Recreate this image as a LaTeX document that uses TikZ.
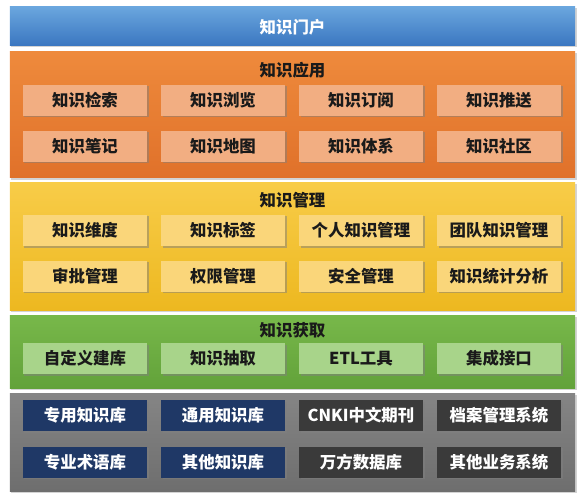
\documentclass[tikz,border=0pt]{standalone}
\usepackage{fontspec}
\setmainfont{Noto Sans CJK SC}
\usetikzlibrary{shadows}
\definecolor{bluetop}{HTML}{6AA6DE}
\definecolor{bluebot}{HTML}{3A76C0}
\definecolor{orgtop}{HTML}{EE8A3C}
\definecolor{orgbot}{HTML}{E0712A}
\definecolor{orgbox}{HTML}{F2AE82}
\definecolor{yeltop}{HTML}{F8CC48}
\definecolor{yelbot}{HTML}{EDB820}
\definecolor{yelbox}{HTML}{FAD67A}
\definecolor{grntop}{HTML}{78B84A}
\definecolor{grnbot}{HTML}{62A23A}
\definecolor{grnbox}{HTML}{A8D48A}
\definecolor{graytop}{HTML}{858585}
\definecolor{graybot}{HTML}{6E6E6E}
\definecolor{navybox}{HTML}{1F3866}
\definecolor{darkbox}{HTML}{3A3A3A}
\definecolor{txt}{HTML}{1A1A1A}
\tikzset{
  panel/.style={minimum width=565bp, inner sep=0pt, draw=none,
    drop shadow={opacity=0.35, shadow xshift=1.5bp, shadow yshift=-1.5bp}},
  ptitle/.style={font=\fontsize{16.5}{19}\selectfont\bfseries, text=txt, inner sep=0pt},
  box/.style={minimum width=124bp, minimum height=31bp, inner sep=0pt,
    font=\fontsize{16.5}{19}\selectfont\bfseries, text=txt,
    drop shadow={opacity=0.5, shadow xshift=1.5bp, shadow yshift=-1.5bp}},
  obox/.style={box, fill=orgbox},
  ybox/.style={box, fill=yelbox},
  gbox/.style={box, fill=grnbox},
  nbox/.style={box, fill=navybox, text=white},
  dbox/.style={box, fill=darkbox, text=white},
}
\begin{document}
\begin{tikzpicture}[x=1bp,y=-1bp]
\useasboundingbox (0,0) rectangle (584,500);
% panels
\node[panel, minimum height=39bp, top color=bluetop, bottom color=bluebot] (portal) at (292.5,26.5) {};
\node[font=\fontsize{16.5}{19}\selectfont\bfseries, text=white] (portalt) at (292.5,27) {知识门户};
\node[panel, minimum height=126bp, top color=orgtop, bottom color=orgbot] (app) at (292.5,115) {};
\node[panel, minimum height=127bp, top color=yeltop, bottom color=yelbot] (mgmt) at (292.5,246.5) {};
\node[panel, minimum height=73bp, top color=grntop, bottom color=grnbot] (acq) at (292.5,351.5) {};
\node[panel, minimum height=98bp, top color=graytop, bottom color=graybot] (src) at (292.5,442) {};
% titles
\node[ptitle] (appt) at (292.5,70) {知识应用};
\node[ptitle] (mgmtt) at (292.5,200) {知识管理};
\node[ptitle] (acqt) at (292.5,330) {知识获取};
% application
\node[obox] (a1) at (85,100.5) {知识检索};
\node[obox] (a2) at (223,100.5) {知识浏览};
\node[obox] (a3) at (361,100.5) {知识订阅};
\node[obox] (a4) at (499,100.5) {知识推送};
\node[obox] (a5) at (85,146.5) {知识笔记};
\node[obox] (a6) at (223,146.5) {知识地图};
\node[obox] (a7) at (361,146.5) {知识体系};
\node[obox] (a8) at (499,146.5) {知识社区};
% management
\node[ybox] (m1) at (85,230.5) {知识维度};
\node[ybox] (m2) at (223,230.5) {知识标签};
\node[ybox] (m3) at (361,230.5) {个人知识管理};
\node[ybox] (m4) at (499,230.5) {团队知识管理};
\node[ybox] (m5) at (85,276) {审批管理};
\node[ybox] (m6) at (223,276) {权限管理};
\node[ybox] (m7) at (361,276) {安全管理};
\node[ybox] (m8) at (499,276) {知识统计分析};
% acquisition
\node[gbox] (q1) at (85,358.5) {自定义建库};
\node[gbox] (q2) at (223,358.5) {知识抽取};
\node[gbox] (q3) at (361,358.5) {ETL工具};
\node[gbox] (q4) at (499,358.5) {集成接口};
% sources
\node[nbox] (s1) at (85,415.5) {专用知识库};
\node[nbox] (s2) at (223,415.5) {通用知识库};
\node[dbox] (s3) at (361,415.5) {CNKI中文期刊};
\node[dbox] (s4) at (499,415.5) {档案管理系统};
\node[nbox] (s5) at (85,462) {专业术语库};
\node[nbox] (s6) at (223,462) {其他知识库};
\node[dbox] (s7) at (361,462) {万方数据库};
\node[dbox] (s8) at (499,462) {其他业务系统};
\end{tikzpicture}
\end{document}
